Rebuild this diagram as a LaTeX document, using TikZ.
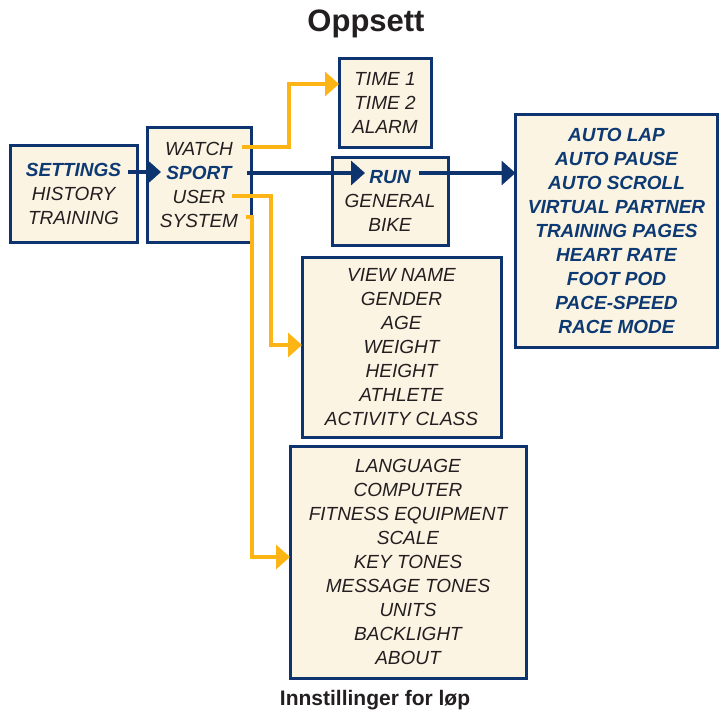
\documentclass[tikz,border=0pt]{standalone}
\usepackage{fontspec}
\setmainfont{Liberation Sans}
\usetikzlibrary{arrows.meta}
\definecolor{navy}{HTML}{0E3470}
\definecolor{navytext}{HTML}{0D3A73}
\definecolor{cream}{HTML}{FCF4E3}
\definecolor{gold}{HTML}{FDB515}
\definecolor{ink}{HTML}{231F20}
\tikzset{
  menubox/.style={draw=navy, fill=cream, line width=3pt, outer sep=0pt, inner sep=0pt,
    align=center, text=ink, font=\fontsize{19}{24}\selectfont\itshape},
  navyarrow/.style={draw=navy, line width=4pt, -{Triangle[length=14pt,width=24pt]}},
  goldarrow/.style={draw=gold, line width=4pt, -{Triangle[length=14pt,width=24pt]}},
  hl/.style={}
}
\newcommand{\hi}[1]{{\bfseries\color{navytext}#1}}
\begin{document}
\begin{tikzpicture}[x=1pt,y=-1pt]
\useasboundingbox (0,0) rectangle (721,712);
% title and caption
\node[font=\fontsize{31}{36}\selectfont\bfseries, text=ink] (title) at (366,24) {Oppsett};
\node[font=\fontsize{21}{24}\selectfont\bfseries, text=ink] (caption) at (375,700) {Innstillinger for løp};
% boxes
\node[menubox, minimum width=127pt, minimum height=97pt] (A) at (73.5,193.5)
  {\hi{SETTINGS}\\HISTORY\\TRAINING};
\node[menubox, minimum width=104pt, minimum height=115pt] (B) at (199,184.5)
  {WATCH\\\hi{SPORT}\\USER\\SYSTEM};
\node[menubox, minimum width=92pt, minimum height=89pt] (C) at (385,102.5)
  {TIME 1\\TIME 2\\ALARM};
\node[menubox, minimum width=116pt, minimum height=88pt] (D) at (390,201)
  {\hi{RUN}\\GENERAL\\BIKE};
\node[menubox, minimum width=202pt, minimum height=233pt] (E) at (616.5,230.5)
  {\hi{AUTO LAP}\\\hi{AUTO PAUSE}\\\hi{AUTO SCROLL}\\\hi{VIRTUAL PARTNER}\\\hi{TRAINING PAGES}\\\hi{HEART RATE}\\\hi{FOOT POD}\\\hi{PACE-SPEED}\\\hi{RACE MODE}};
\node[menubox, minimum width=199pt, minimum height=180pt] (F) at (401.5,347)
  {VIEW NAME\\GENDER\\AGE\\WEIGHT\\HEIGHT\\ATHLETE\\ACTIVITY CLASS};
\node[menubox, minimum width=236pt, minimum height=232pt] (G) at (408,562)
  {LANGUAGE\\COMPUTER\\FITNESS EQUIPMENT\\SCALE\\KEY TONES\\MESSAGE TONES\\UNITS\\BACKLIGHT\\ABOUT};
% connector ends
\coordinate (setR) at (128,172);
\coordinate (sportL) at (161,172);
\coordinate (watchR) at (242,147);
\coordinate (sportR) at (247,173);
\coordinate (runL) at (365,173);
\coordinate (runR) at (419,173);
\coordinate (userR) at (232,196);
\coordinate (sysR) at (246,217);
% connectors
\draw[navyarrow] (setR) -- (sportL);
\draw[goldarrow] (watchR) -- ++(47,0) |- ([yshift=18.5pt]C.west);
\draw[navyarrow] (sportR) -- (runL);
\draw[navyarrow] (runR) -- (E.west |- runR);
\draw[goldarrow] (userR) -- ++(39,0) |- ([yshift=2pt]F.west);
\draw[goldarrow] (sysR) -- ++(6,0) |- ([yshift=5pt]G.west);
\end{tikzpicture}
\end{document}
